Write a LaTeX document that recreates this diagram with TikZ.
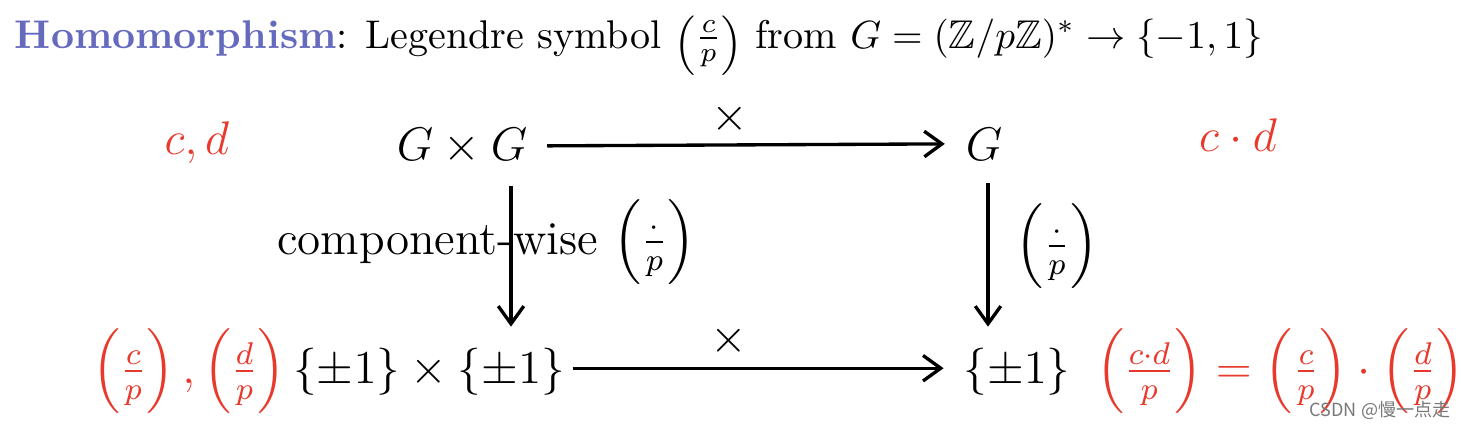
\documentclass[tikz,border=0pt]{standalone}
\usepackage{amsmath,amssymb}
\usepackage{fontspec}
\newfontfamily\cjk{Noto Sans CJK SC}
\usetikzlibrary{arrows.meta}
\definecolor{legred}{RGB}{232,58,44}
\definecolor{strblue}{RGB}{102,106,190}
\definecolor{wmgray}{RGB}{120,120,120}
\newcommand\titlelgd[1]{\mathopen{\raisebox{-1.4pt}{\fontsize{8.4}{10}\selectfont$\Bigl($}}\frac{#1}{p}\mathclose{\raisebox{-1.4pt}{\fontsize{8.4}{10}\selectfont$\Bigr)$}}}
\begin{document}
\begin{tikzpicture}[x=0.2545pt,y=-0.2545pt,
  every node/.style={inner sep=0pt,outer sep=0pt},
  obj/.style={font=\large},
  redtxt/.style={font=\large,text=legred},
  lbl/.style={font=\large},
  arr/.style={line width=0.85pt,-{Straight Barb[length=4.5pt,width=6.5pt]}}]
\useasboundingbox (0,0) rectangle (1463,428);
% title
\node[anchor=base west,font=\fontsize{10.2}{12}\selectfont] (title) at (15,48) {\textcolor{strblue}{\textbf{Homomorphism}}: Legendre symbol $\titlelgd{c}$ from $G=(\mathbb{Z}/p\mathbb{Z})^{*}\to\{-1,1\}$};
% objects
\node[obj,anchor=base] (GG) at (462,160) {$G\times G$};
\node[obj,anchor=base] (G) at (984,160) {$G$};
\node[obj,anchor=base] (PP) at (429,383) {$\{\pm1\}\times\{\pm1\}$};
\node[obj,anchor=base] (P) at (1017,383) {$\{\pm1\}$};
% red annotations
\node[redtxt,anchor=base] (cd) at (197,154) {$c,d$};
\node[redtxt,anchor=base] (cdot) at (1238,151) {$c\cdot d$};
\node[redtxt,anchor=base west] (lcd) at (92,383) {$\left(\frac{c}{p}\right),\left(\frac{d}{p}\right)$};
\node[redtxt,anchor=base west] (rcd) at (1096,383) {$\left(\frac{c\cdot d}{p}\right)=\left(\frac{c}{p}\right)\cdot\left(\frac{d}{p}\right)$};
% arrows
\draw[arr] ([shift={(20,0)}]GG.east) -- node[lbl,pos=0.46,above=2.8pt] (tx) {$\times$} ([shift={(-21,0)}]G.west);
\draw[arr] ([shift={(8,-3)}]PP.east) -- node[lbl,pos=0.42,above=3pt] (bx) {$\times$} ([shift={(-20,-3)}]P.west);
\draw[arr] ([shift={(49,22)}]GG.south) -- ([shift={(82,-21)}]PP.north);
\draw[arr] ([shift={(4,23)}]G.south) -- ([shift={(-29,-21)}]P.north);
% vertical labels
\node[lbl,anchor=base west] (cw) at (277,254) {component-wise $\left(\frac{\cdot}{p}\right)$};
\node[lbl] (rl) at (1057,246) {$\left(\frac{\cdot}{p}\right)$};
% watermark
\node[font=\cjk\fontsize{4.6}{5}\selectfont,text=wmgray] (wm) at (1380,410) {CSDN @慢一点走};
\end{tikzpicture}
\end{document}
